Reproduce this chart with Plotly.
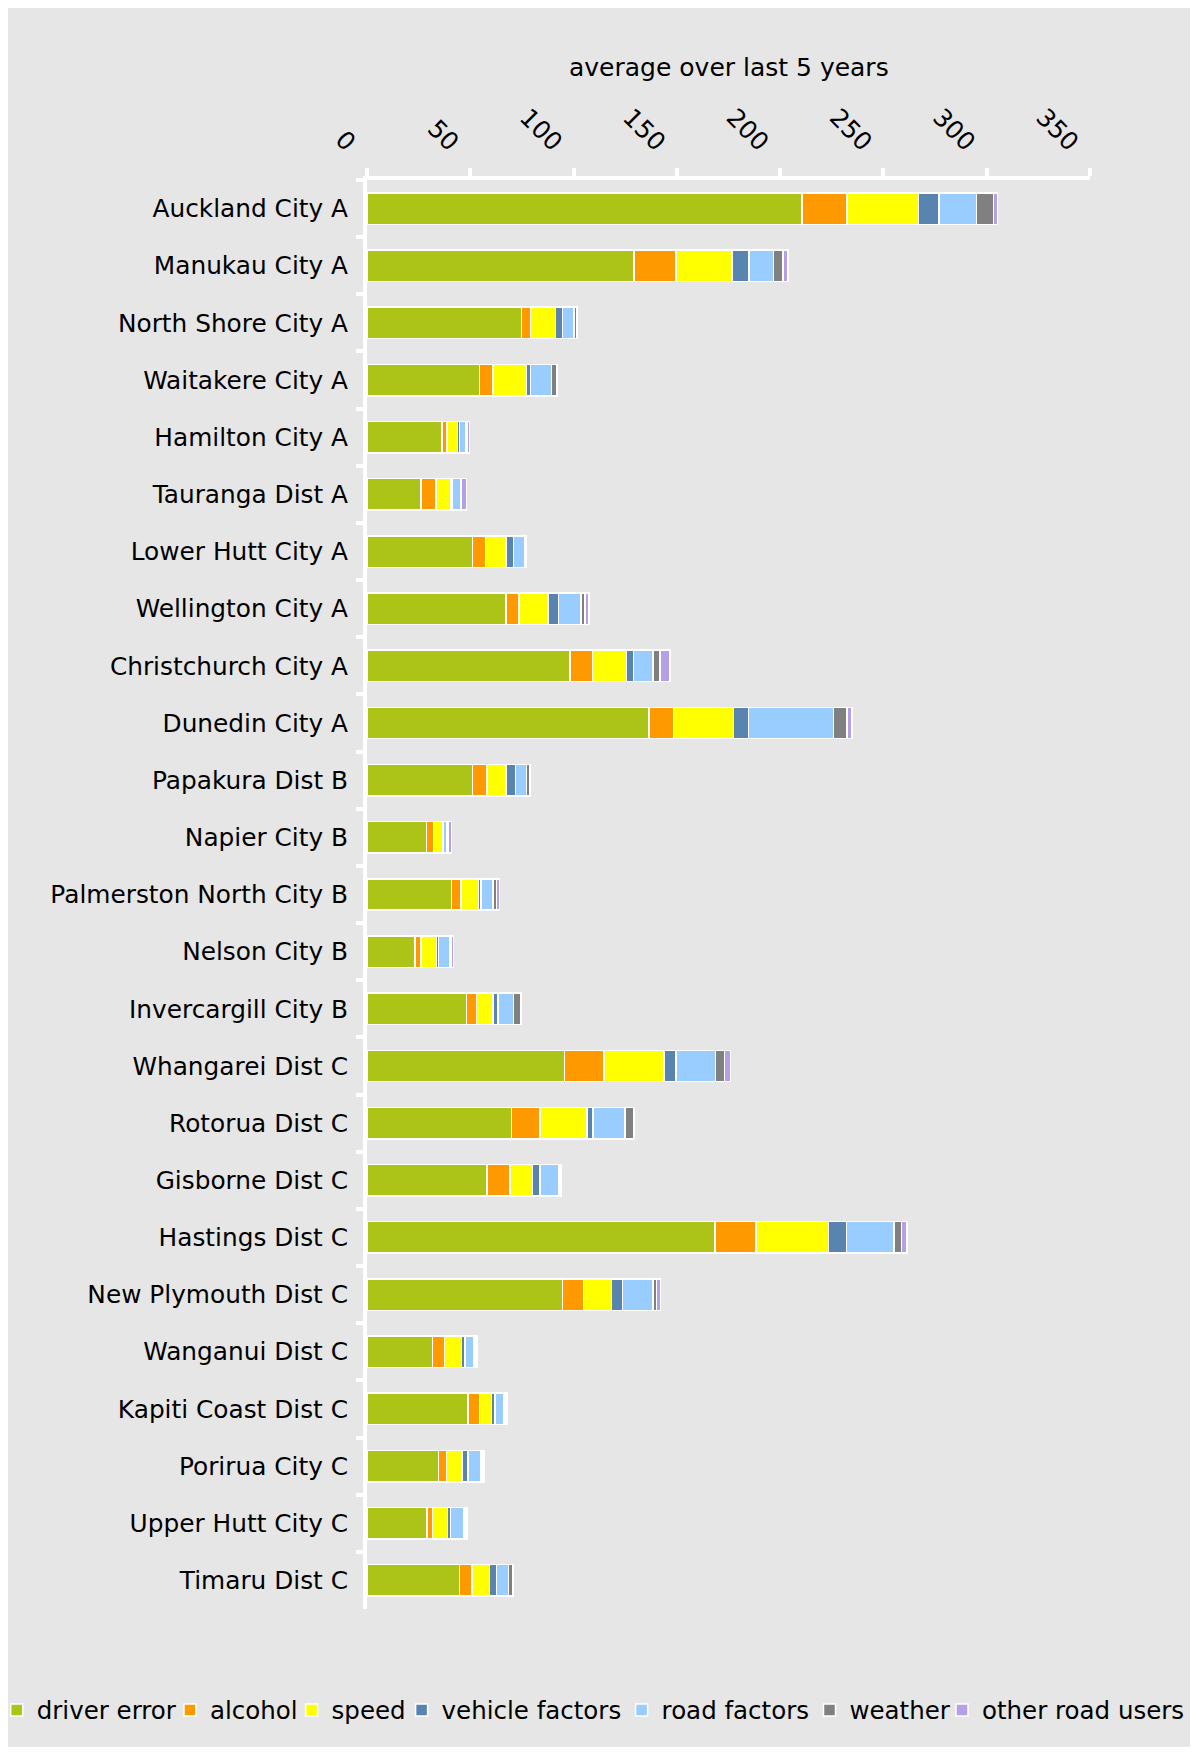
import plotly.graph_objects as go

# ---------------- data ----------------
cities = [
    "Auckland City A", "Manukau City A", "North Shore City A", "Waitakere City A",
    "Hamilton City A", "Tauranga Dist A", "Lower Hutt City A", "Wellington City A",
    "Christchurch City A", "Dunedin City A", "Papakura Dist B", "Napier City B",
    "Palmerston North City B", "Nelson City B", "Invercargill City B",
    "Whangarei Dist C", "Rotorua Dist C", "Gisborne Dist C", "Hastings Dist C",
    "New Plymouth Dist C", "Wanganui Dist C", "Kapiti Coast Dist C",
    "Porirua City C", "Upper Hutt City C", "Timaru Dist C",
]

driver_error = [210.5, 129.2, 74.7, 54.5, 36.2, 26.2, 51.0, 67.4, 98.3, 136.6,
                51.1, 28.7, 40.9, 23.3, 48.2, 95.5, 70.0, 58.2, 168.4, 94.6,
                31.7, 49.0, 34.5, 29.1, 44.7]
alcohol = [21.8, 20.3, 4.5, 6.5, 2.5, 7.3, 6.4, 6.3, 10.8, 11.8,
           7.1, 3.6, 4.7, 2.9, 4.7, 19.3, 13.7, 11.0, 20.0, 10.1,
           5.7, 5.5, 3.9, 2.5, 6.1]
speed = [34.7, 27.1, 12.1, 16.3, 5.2, 6.9, 10.0, 13.8, 16.5, 29.1,
         9.2, 4.2, 8.3, 7.4, 8.1, 29.0, 22.9, 10.8, 34.9, 13.6,
         8.3, 5.8, 7.7, 7.3, 8.4]
vehicle_factors = [10.0, 8.3, 3.3, 1.9, 0.8, 0.8, 3.4, 5.3, 3.5, 7.3,
                   4.4, 0.6, 1.4, 0.9, 2.5, 5.7, 2.7, 3.7, 8.9, 5.5,
                   1.7, 1.7, 2.9, 1.6, 3.5]
road_factors = [18.1, 11.8, 5.6, 10.1, 3.2, 4.3, 5.8, 10.9, 9.3, 41.0,
                5.5, 1.6, 5.7, 5.6, 7.5, 19.1, 15.5, 9.0, 22.9, 14.7,
                4.4, 4.4, 6.2, 6.4, 5.7]
weather = [8.2, 4.6, 1.5, 2.6, 0.8, 0.0, 0.5, 1.8, 3.5, 6.5,
           1.6, 0.8, 1.6, 0.9, 3.6, 4.5, 4.4, 0.7, 3.6, 1.6,
           0.8, 0.9, 0.8, 0.8, 2.3]
other_road_users = [2.0, 2.5, 0.0, 0.0, 0.8, 2.6, 0.0, 1.9, 4.8, 2.6,
                    0.0, 1.4, 1.6, 0.8, 0.0, 2.8, 0.0, 0.7, 2.8, 1.9,
                    0.7, 0.7, 0.7, 0.6, 0.0]

series_names = ["driver error", "alcohol", "speed", "vehicle factors",
                "road factors", "weather", "other road users"]
series_values = [driver_error, alcohol, speed, vehicle_factors,
                 road_factors, weather, other_road_users]
series_colors = ["#ACC318", "#FF9900", "#FFFF00", "#5A84B0",
                 "#99CCFF", "#808080", "#B3A0E6"]

x_title = "average over last 5 years"
x_ticks = [0, 50, 100, 150, 200, 250, 300, 350]

# ---------------- layout geometry ----------------
# The page body has an 8px margin, so the figure is drawn 8px in from the
# top-left corner of the 1198x1755 window.
OFF = 8
FW, FH = 1198 - 2 * OFF, 1755 - 2 * OFF
L = 367 - OFF            # plot left (page x 367)
R = FW - (1090 - OFF)    # plot right (page x 1090)
T = 180 - OFF            # plot top (page y 180)
B = FH - (1609 - OFF)    # plot bottom (page y 1609)
PW, PH = FW - L - R, FH - T - B
FONT = "DejaVu Sans"
FS = 24.8


def px_x(page_x):
    return (page_x - OFF - L) / PW


def px_y(page_y):
    return (FH - B - (page_y - OFF)) / PH


legend_text_start_page = [36.7, 210, 331.6, 441.6, 661.6, 849.5, 982]

fig = go.Figure()
for i, (name, vals, col) in enumerate(zip(series_names, series_values, series_colors)):
    lid = "legend" if i == 0 else f"legend{i + 1}"
    fig.add_trace(go.Bar(
        y=cities, x=vals, name=name, orientation="h",
        marker=dict(color=col, line=dict(color="white", width=1.5)),
        legend=lid, showlegend=True,
    ))

layout_legends = {}
for i, ts in enumerate(legend_text_start_page):
    lid = "legend" if i == 0 else f"legend{i + 1}"
    layout_legends[lid] = dict(
        x=px_x(ts - 40), y=px_y(1710), xanchor="left", yanchor="middle",
        orientation="h", bgcolor="rgba(0,0,0,0)", borderwidth=0,
        font=dict(family=FONT, size=24.5, color="black"),
    )

fig.update_layout(
    width=FW, height=FH,
    showlegend=True,
    margin=dict(l=L, r=R, t=T, b=B, pad=0, autoexpand=False),
    paper_bgcolor="#E6E6E6",
    plot_bgcolor="rgba(0,0,0,0)",
    barmode="stack",
    bargap=0.45,
    font=dict(family=FONT, size=FS, color="black"),
    annotations=[dict(
        text=x_title, xref="paper", yref="paper", x=0.5, y=px_y(67),
        xanchor="center", yanchor="middle", showarrow=False,
        font=dict(family=FONT, size=25, color="black"),
    )],
    xaxis=dict(
        side="top", range=[0, 350], tickvals=x_ticks,
        ticktext=[str(v) for v in x_ticks], tickangle=45,
        ticklabelshift=-13, ticklabelstandoff=2,
        showline=True, linecolor="white", linewidth=4,
        ticks="outside", ticklen=8, tickwidth=4, tickcolor="white",
        showgrid=False, zeroline=False, automargin=False,
        tickfont=dict(family=FONT, size=FS, color="black"),
    ),
    yaxis=dict(
        type="category", autorange="reversed",
        showline=True, linecolor="white", linewidth=4,
        ticks="outside", tickson="boundaries", ticklen=7, tickwidth=3.5,
        ticklabelstandoff=10,
        tickcolor="white", showgrid=False, zeroline=False, automargin=False,
        tickfont=dict(family=FONT, size=FS, color="black"),
    ),
    **layout_legends,
)

fig.write_html("out.html")
